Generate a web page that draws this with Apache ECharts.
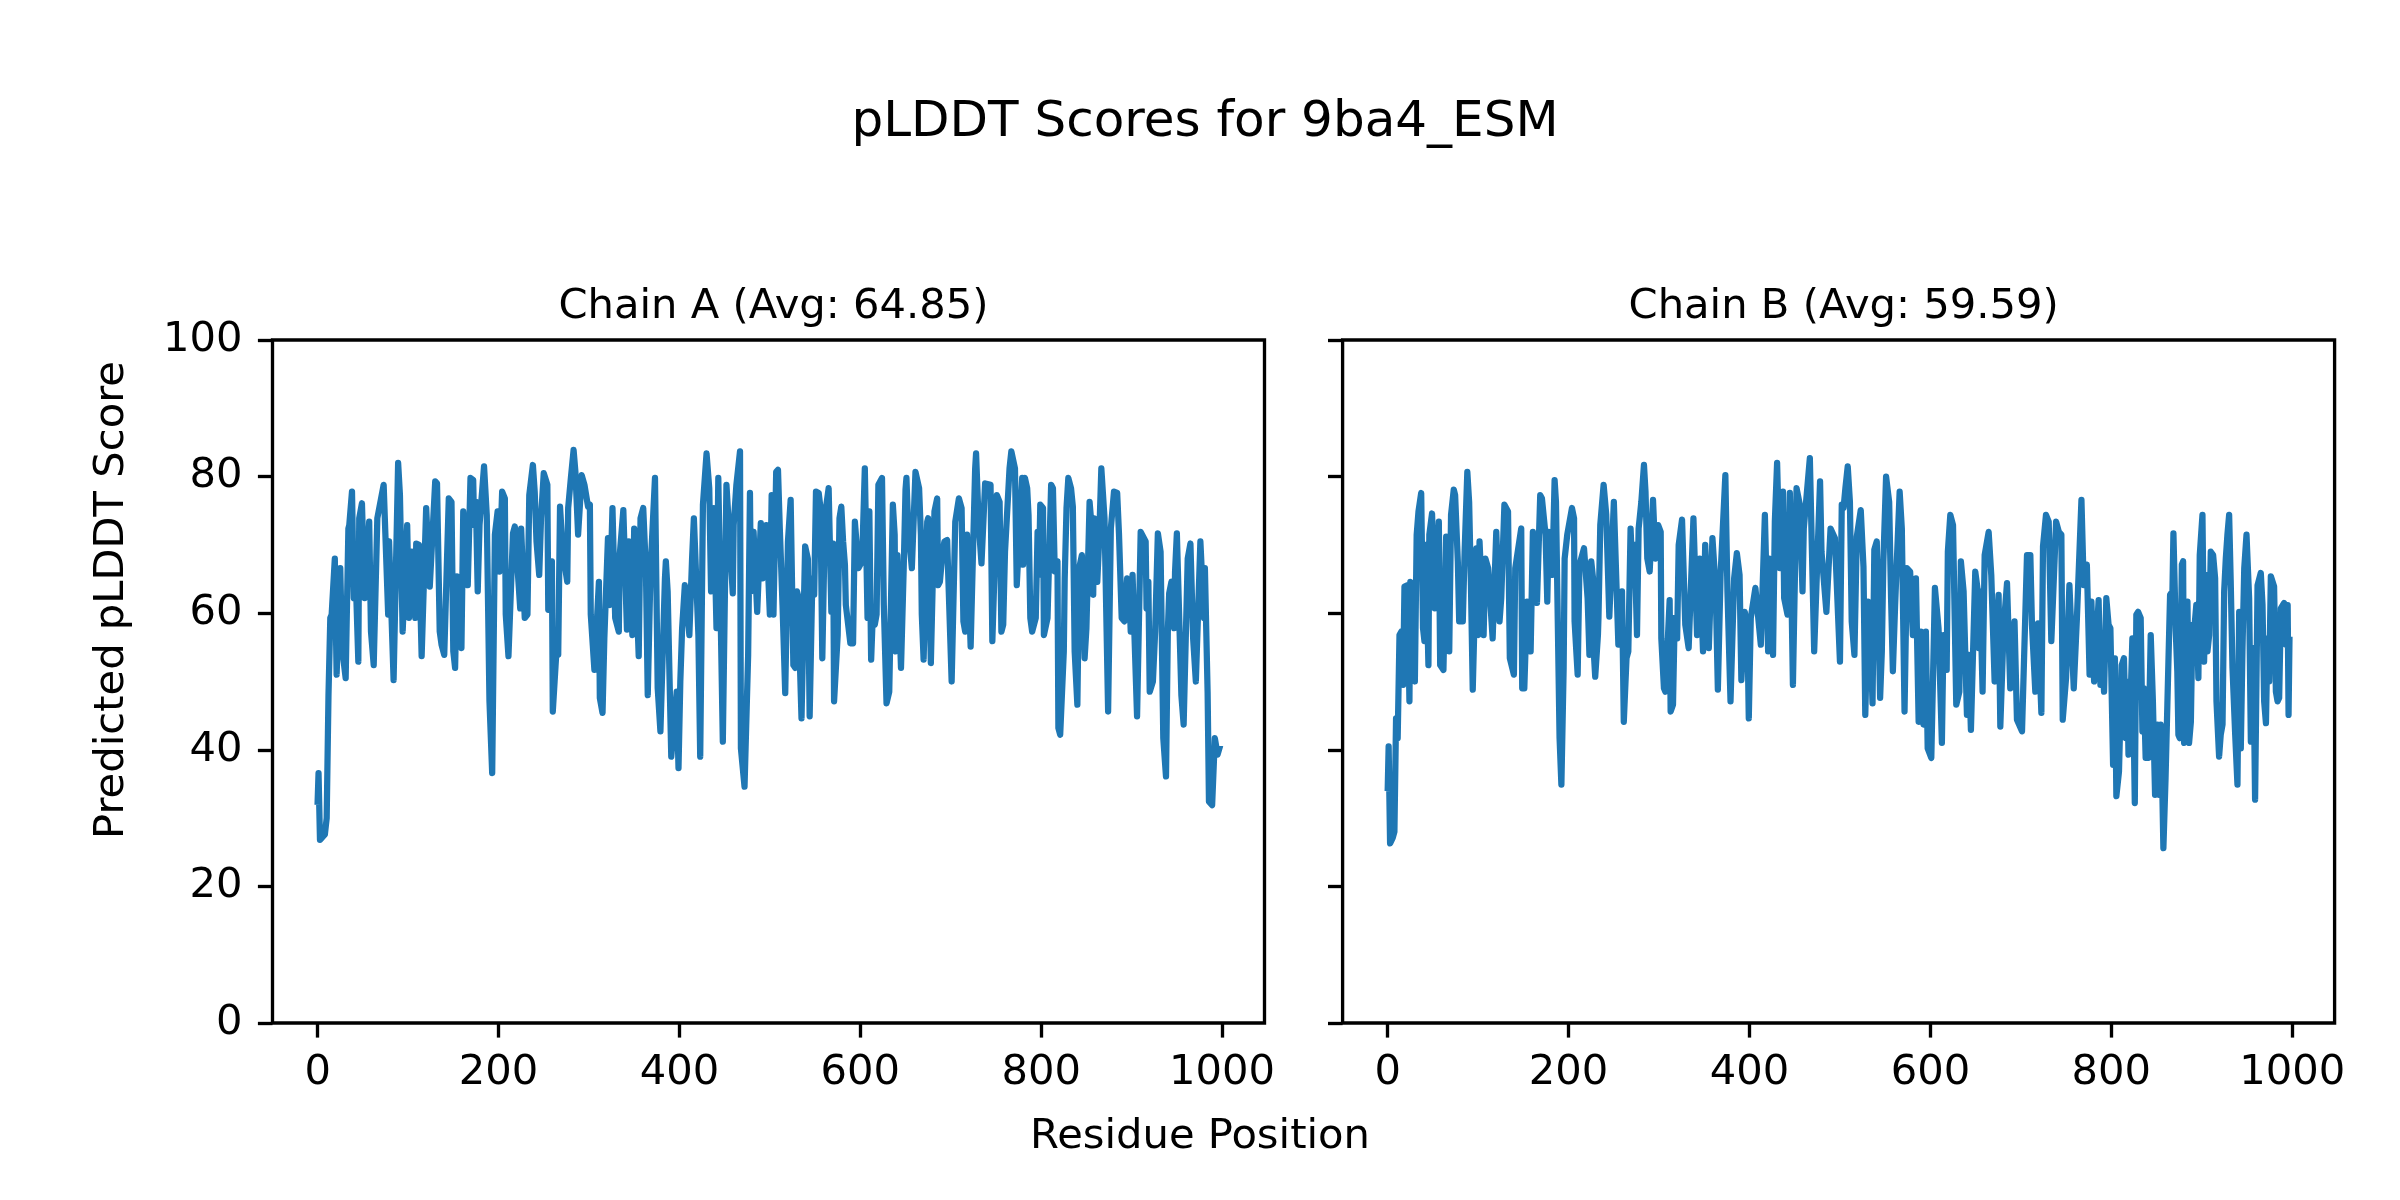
<!DOCTYPE html>
<html>
<head>
<meta charset="utf-8">
<script src="https://cdn.jsdelivr.net/npm/echarts@6/dist/echarts.min.js"></script>
<style>
html,body{margin:0;padding:0;background:#fff;}
#chart{width:2400px;height:1200px;}
</style>
</head>
<body>
<div id="chart"></div>
<script>
const figTitle = 'pLDDT Scores for 9ba4_ESM';
const chainTitles = ['Chain A (Avg: 64.85)', 'Chain B (Avg: 59.59)'];
const xLabel = 'Residue Position';
const yLabel = 'Predicted pLDDT Score';
const xTicks = [0, 200, 400, 600, 800, 1000];
const yTicks = [0, 20, 40, 60, 80, 100];

// Chain A: [residue position, pLDDT]
const chainA = [
[0,32.4],[1,36.6],[2.6,26.8],[8,27.6],[10,30.0],[12,48.0],[14,59.3],[15.5,59.8],[19,68.0],[21,51.0],[25,66.6],[27,54.9],[31,50.5],[34,72.4],[35,72.9],[38,77.8],[40,62.2],[41,70.0],[45,52.9],[46,73.9],[49,76.1],[52,62.2],[57,73.4],[59,57.3],[62,52.4],[66,73.9],[73,78.8],[75,79.0],[78,59.8],[79,70.5],[84,50.2],[89,82.0],[91,77.3],[94,57.3],[99,72.9],[101,59.3],[104,69.0],[108,59.3],[109,70.2],[112,70.0],[115,53.7],[120,75.4],[124,63.9],[130,79.3],[132,79.0],[135,57.3],[137,55.4],[140,53.9],[145,76.8],[148,76.3],[150,54.4],[152,52.0],[154,65.4],[159,54.9],[161,74.9],[163,74.9],[166,64.1],[169,79.8],[172,79.5],[173,72.9],[175,76.3],[177,63.2],[179,72.9],[184,81.5],[187,74.4],[190,47.1],[193,36.6],[196,71.5],[199,74.9],[201,66.1],[204,77.8],[207,76.8],[208,59.8],[211,53.7],[216,71.7],[218,72.7],[224,60.7],[225,72.4],
[229,59.3],[232,59.8],[234,77.3],[238,81.7],[240,77.8],[242,70.5],[245,65.6],[247,73.9],[250,80.5],[254,78.8],[255,60.5],[259,67.6],[260,45.6],[264,54.4],[266,53.9],[268,75.6],[271,69.0],[276,64.6],[277,75.4],[280,79.8],[283,83.9],[285,80.7],[288,71.5],[292,80.2],[295,78.8],[299,75.6],[301,75.9],[302,59.8],[306,51.7],[311,64.6],[312,47.6],[315,45.4],[317,56.3],[321,71.0],[323,61.2],[326,75.4],[329,59.3],[333,57.3],[334,68.5],[338,75.1],[342,57.6],[344,70.5],[348,56.8],[350,72.4],[355,53.7],[357,73.9],[360,75.4],[363,66.1],[365,48.0],[368,66.1],[373,79.8],[376,49.0],[379,42.7],[384,65.1],[385,67.6],[387,63.2],[391,39.0],[397,48.5],[399,37.3],[401,50.0],[403,57.8],[406,64.1],[408,61.5],[411,56.8],[414,68.0],[416,73.9],[421,56.8],[423,39.0],[426,75.9],[430,83.4],[433,78.3],[435,63.2],[438,75.4],[441,57.8],[443,79.8],[448,41.2],[452,78.8],[454,78.8],[459,62.9],[460,72.9],[463,78.8],[467,83.7],[468,40.2],[472,34.6],[476,53.9],[478,77.6],[479,63.2],[482,71.9],[486,60.2],[490,73.2],[492,65.1],[496,72.9],[500,59.8],[502,77.3],
[504,59.8],[507,80.7],[509,81.0],[511,72.4],[514,61.2],[517,48.3],[520,70.5],[523,76.6],[526,52.4],[528,52.0],[530,63.2],[531,62.7],[535,44.6],[539,69.8],[542,68.0],[544,44.9],[547,65.1],[549,62.7],[551,77.8],[554,77.6],[556,75.4],[558,53.4],[561,74.4],[565,78.3],[568,60.2],[570,70.2],[571,47.1],[575,56.8],[577,73.9],[579,75.6],[581,70.5],[583,67.1],[584,61.2],[589,55.6],[592,55.6],[594,73.4],[596,73.4],[598,66.6],[602,67.6],[605,81.2],[608,59.3],[610,74.9],[612,53.2],[614,60.5],[616,58.3],[618,59.8],[620,78.8],[624,79.8],[626,61.2],[629,46.8],[632,48.5],[636,75.9],[638,71.5],[639,54.4],[641,68.5],[645,52.0],[648,66.6],[650,78.1],[651,79.8],[653,72.4],[657,66.6],[661,80.7],[665,78.3],[667,71.5],[668,59.8],[670,53.2],[674,73.4],[675,73.9],[678,52.7],[680,64.1],[682,74.9],[685,76.8],[686,64.1],[688,64.6],[691,69.0],[693,70.5],[696,70.7],[701,50.0],[705,73.4],[709,76.8],[712,75.4],[714,58.8],[716,57.3],[718,71.5],[722,55.1],[725,71.0],[727,81.2],[728,83.4],[730,76.3],[731,72.9],[734,67.3],[738,79.0],[744,78.8],[746,55.9],[751,77.3],[754,76.3],[756,57.3],[758,58.3],[760,69.0],[765,81.2],[767,83.7],[771,81.2],[773,64.1],[779,79.8],
[780,67.1],[782,79.8],[784.5,78.3],[786,74.4],[788,59.3],[790,57.3],[794,59.3],[796,71.9],[797.5,65.6],[799,75.9],[802,75.4],[803,56.8],[807,59.3],[811,78.8],[813,78.3],[815,66.1],[818,67.6],[819,43.2],[821,42.2],[825,54.4],[826,65.1],[828,75.4],[830,79.8],[833,78.3],[835,75.6],[837,54.4],[840,46.6],[842,66.6],[845,68.5],[848,53.4],[850,57.8],[853.5,76.3],[855,73.9],[857.5,62.7],[858.5,73.9],[862,64.6],[864,70.5],[866.5,81.2],[868,81.2],[870,73.9],[874,45.6],[877,72.4],[880.5,77.8],[884,77.6],[886,71.7],[889,59.3],[892,58.8],[895,65.1],[897,64.6],[899,57.3],[901,65.6],[906,44.9],[910,71.9],[915.5,70.5],[916.5,60.7],[918.5,64.6],[920,48.5],[923.5,50.0],[926,57.3],[929,71.7],[932,69.0],[935,41.7],[938,36.1],[940,57.3],[941.5,62.9],[944,64.6],[947,57.8],[948,66.1],[950,71.7],[955,48.0],[957.5,43.7],[962,68.0],[965,70.2],[968,56.3],[971,50.0],[976,70.5],[980,59.3],[981,66.6],[984,48.5],[985.5,32.4],[989,31.9],[992,41.7],[995,39.3],[997,40.2]
];

// Chain B: [residue position, pLDDT]
const chainB = [
[0,34.4],[1,40.5],[2.6,26.3],[5.5,27.1],[7.4,28.0],[9.2,44.6],[11,41.7],[13,56.8],[15,57.3],[17,49.5],[18.5,63.9],[22,64.1],[24,47.1],[25,64.6],[27,64.1],[30,50.0],[32,71.5],[34,74.9],[37,77.6],[39,57.8],[40.6,55.9],[42,70.0],[45,52.4],[46,71.5],[49,74.6],[52,60.7],[56.5,73.4],[58,52.4],[61.6,51.7],[64.6,71.2],[68,54.4],[70,74.4],[73,78.1],[74.5,77.3],[77.5,67.6],[79,58.8],[83,58.8],[85,69.0],[88,80.7],[90,76.3],[92,64.1],[94,48.8],[98,69.5],[100,56.8],[101.5,70.5],[106,56.8],[108,68.0],[111,66.6],[116,56.3],[120,71.9],[123.6,58.8],[125.5,62.2],[129,75.9],[133,74.9],[135,53.4],[139.5,51.0],[141,66.6],[147.6,72.4],[148.7,49.0],[151,49.0],[154,61.7],[158,54.4],[160.5,71.9],[162.4,71.9],[165,61.5],[168.6,77.3],[170.5,76.8],[173.4,72.9],[174.5,71.5],[176.4,61.7],[178,71.9],[182,65.6],[184.5,79.5],[186,76.3],[190,41.7],[192,34.9],[194.5,52.0],[195.6,68.0],[198.5,71.5],[203.7,75.4],[206,73.9],[206.6,58.8],[210,51.0],[212,67.1],[217,69.5],[221,62.2],[223,53.9],[225,67.6],
[227,65.1],[228,53.9],[229.4,50.7],[232.4,56.8],[233,59.3],[235,72.9],[238.7,78.8],[241.6,74.4],[245,59.5],[247,66.1],[250,76.3],[251.6,76.3],[255,55.4],[259,63.2],[261,44.1],[264,53.4],[266,54.4],[268.5,72.4],[271,64.1],[273,70.0],[275.6,56.8],[277.4,72.4],[280.4,76.3],[283.3,81.7],[285,77.8],[287,68.0],[289.6,66.1],[293.3,76.6],[296,68.0],[299,72.9],[301.8,71.9],[302.5,56.3],[305.4,49.0],[307,48.5],[311.7,61.9],[312.8,45.6],[315.4,46.6],[317.3,59.3],[320,56.3],[321.7,70.0],[325.4,73.7],[329,58.3],[332.7,54.9],[338,73.9],[342,56.8],[345,68.0],[348.6,54.4],[351,70.0],[355,54.9],[359,71.0],[362.6,63.7],[365,48.8],[368,65.6],[373.3,80.2],[375.6,63.2],[379,47.1],[383,65.1],[386,68.8],[389,65.6],[391,50.2],[394.7,60.2],[397.7,57.6],[399.2,44.6],[401.4,59.3],[406.5,63.7],[412.5,55.4],[417,74.4],[418.7,74.4],[420.6,54.4],[422.4,68.0],[424.3,66.6],[426,53.9],[428,73.4],[430.5,82.0],[433.5,66.6],[437,77.8],[438.3,62.2],[442,59.8],[444.6,77.6],[448,49.5],[452,78.3],[455.6,75.9],[458.6,63.2],[460,72.4],[466.7,82.7],[471.5,54.4],[478,79.3],[479.6,69.0],[485,60.2],[489.6,72.4],[494.4,71.0],[500,52.9],[502,75.9],
[504,75.4],[506,78.3],[508.6,81.5],[511,76.3],[513,58.8],[516,53.9],[518.6,71.2],[523,75.1],[526,66.8],[528,45.1],[531,61.7],[533.4,58.3],[536,46.8],[538,69.3],[540.7,70.5],[544.4,47.6],[546.3,54.4],[548,67.6],[551,80.0],[554.4,76.3],[556.6,61.7],[558.5,51.5],[561,61.2],[563,68.0],[566,77.8],[568.4,72.4],[571.4,45.6],[574,66.6],[577.6,66.1],[580.6,56.8],[584,65.1],[587,44.1],[589.5,57.3],[592.4,43.7],[595,57.3],[597,40.2],[601,38.8],[605,63.7],[609,57.8],[612.7,41.0],[614.5,56.8],[618,51.7],[619.3,69.0],[622,74.4],[625,72.9],[628.6,46.6],[632,48.5],[633.7,67.6],[636.7,63.2],[640.4,45.1],[642.2,53.9],[644.8,42.9],[649.6,66.1],[652.5,63.2],[653.3,54.9],[655,63.2],[657.7,48.5],[660,68.5],[664.4,71.9],[667.3,65.6],[671,50.0],[675.4,62.7],[677.3,43.4],[681,58.0],[684.7,64.4],[688.3,49.0],[693,58.8],[695.7,44.4],[701.3,42.7],[706.8,68.5],[710.5,68.5],[712.3,58.3],[716,48.5],[719,58.5],[722.7,45.4],[724.5,69.8],[727.8,74.4],[730.8,73.4],[733.7,55.9],[739,73.4],[742,71.9],[744.8,71.5],[746.3,44.4],[750,50.5],[753.7,64.1],[758.5,49.0],[762,59.3],[767,76.6],[769.5,64.1],[773,67.1],[776,51.0],[778,61.7],
[781,50.0],[786,61.9],[788,49.5],[790,54.4],[792,48.5],[794.5,62.2],[797,58.3],[799,57.8],[802,37.8],[804,53.4],[805.6,33.2],[808.5,36.8],[811.5,52.4],[814,53.4],[816,41.7],[817.7,50.0],[819,39.3],[821.4,47.6],[823.3,56.3],[826,32.2],[827.7,59.8],[829.6,60.2],[832.5,59.3],[834.4,42.7],[836,49.0],[838,38.8],[841,38.8],[843.6,56.8],[846,47.1],[848.4,33.4],[851,43.7],[852.8,33.4],[854.6,43.7],[856.5,33.4],[857.6,25.6],[860,35.9],[862,46.6],[865,62.7],[867.6,63.2],[868.7,71.7],[871.3,57.3],[873,51.5],[874.2,42.2],[875.7,41.7],[878,67.1],[879.4,67.6],[880.5,41.0],[882.3,43.2],[884.2,61.7],[886,41.0],[888,44.1],[889.7,58.3],[891.5,57.3],[894,61.2],[896.3,50.5],[897.8,68.5],[900.8,74.4],[902.6,52.9],[904.5,65.6],[906.3,54.4],[908.2,56.8],[910,69.0],[912.6,68.5],[914.8,65.1],[916.3,47.1],[919.2,39.0],[921,42.2],[923,43.7],[924.8,63.2],[926.6,68.0],[928.4,71.5],[930.3,74.4],[932,64.9],[934,52.0],[937,42.2],[939.5,34.9],[941.4,60.2],[943.2,40.2],[945,54.4],[947,66.6],[949.5,71.5],[952.4,62.2],[954.3,41.2],[957,54.9],[959,32.7],[961.7,64.1],[965.3,65.9],[967.2,61.2],[969,47.1],[971,43.9],[972.7,56.3],[974.6,50.0],[976.4,65.4],[980,63.9],[982,48.5],[983.8,47.1],[985.6,47.6],[987.5,60.7],[991,61.5],[993,55.4],[995,61.2],[996,45.1],[997,56.1]
];

const FONT = 'DejaVu Sans';
const LBL = 41.67;
const chart = echarts.init(document.getElementById('chart'), null, {renderer: 'canvas', width: 2400, height: 1200});

const grids = [
  {left: 272.5, top: 340, width: 992, height: 683},
  {left: 1342.6, top: 340, width: 992, height: 683}
];

function xAxisCfg(i) {
  return {
    type: 'value', gridIndex: i, min: -49.9, max: 1046.9, position: 'bottom',
    axisLine: {show: false, onZero: false},
    splitLine: {show: false},
    axisTick: {show: true, length: 14.6, inside: false, customValues: xTicks, lineStyle: {color: '#000', width: 3.33}},
    axisLabel: {show: true, customValues: xTicks, margin: 29, color: '#000', fontFamily: FONT, fontSize: LBL,
                formatter: v => String(v)}
  };
}
function yAxisCfg(i) {
  return {
    type: 'value', gridIndex: i, min: 0, max: 100, interval: 20, position: 'left',
    axisLine: {show: false, onZero: false},
    splitLine: {show: false},
    axisTick: {show: true, length: 14.6, inside: false, lineStyle: {color: '#000', width: 3.33}},
    axisLabel: {show: i === 0, margin: 30, color: '#000', fontFamily: FONT, fontSize: LBL,
                formatter: v => String(v)}
  };
}

const option = {
  animation: false,
  backgroundColor: '#ffffff',
  title: [
    {text: figTitle, left: 1200, top: 93, textAlign: 'center',
     textStyle: {fontFamily: FONT, fontSize: 50, fontWeight: 'normal', color: '#000', lineHeight: 50}},
    {text: chainTitles[0], left: 768.5, top: 281, textAlign: 'center',
     textStyle: {fontFamily: FONT, fontSize: LBL, fontWeight: 'normal', color: '#000', lineHeight: LBL}},
    {text: chainTitles[1], left: 1838.7, top: 281, textAlign: 'center',
     textStyle: {fontFamily: FONT, fontSize: LBL, fontWeight: 'normal', color: '#000', lineHeight: LBL}}
  ],
  grid: grids.map(g => Object.assign({show: true, borderColor: '#000', borderWidth: 3.33, backgroundColor: 'transparent', containLabel: false}, g)),
  xAxis: [xAxisCfg(0), xAxisCfg(1)],
  yAxis: [yAxisCfg(0), yAxisCfg(1)],
  series: [chainA, chainB].map((d, i) => ({
    type: 'line', xAxisIndex: i, yAxisIndex: i, data: d,
    showSymbol: false, symbol: 'none', clip: true,
    lineStyle: {color: '#1f77b4', width: 6.25, join: 'round', cap: 'square'},
    z: 1
  })),
  graphic: [
    {type: 'text', x: 112, y: 600, rotation: Math.PI / 2,
     style: {text: yLabel, fontFamily: FONT, fontSize: LBL, fill: '#000', textAlign: 'center', textVerticalAlign: 'middle'}},
    {type: 'text', x: 1200, y: 1137,
     style: {text: xLabel, fontFamily: FONT, fontSize: LBL, fill: '#000', textAlign: 'center', textVerticalAlign: 'middle'}}
  ]
};
chart.setOption(option);
</script>
</body>
</html>
